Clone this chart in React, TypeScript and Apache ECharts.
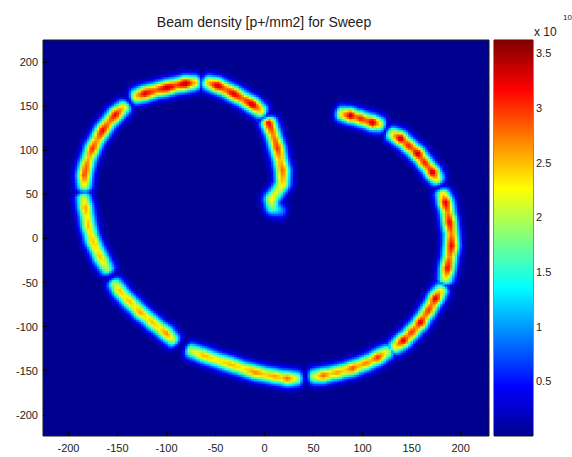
import React, { useEffect, useRef } from "react";
import * as echarts from "echarts";

const TITLE = "Beam density [p+/mm2] for Sweep";
const X_RANGE = [-226, 229];
const Y_RANGE = [-224, 225];
const X_TICKS = [-200, -150, -100, -50, 0, 50, 100, 150, 200];
const Y_TICKS = [-200, -150, -100, -50, 0, 50, 100, 150, 200];
const CBAR_RANGE = [0, 3.62];
const CBAR_TICKS = [0.5, 1, 1.5, 2, 2.5, 3, 3.5];
const CBAR_EXP_BASE = "x 10";
const CBAR_EXP = "10";
const JET = ["#00008F", "#0000FF", "#0080FF", "#00FFFF", "#80FF80", "#FFFF00", "#FF8000", "#FF0000", "#800000"];

// Beam sweep segments: nodes [x mm, y mm, density (x1e10 p+/mm2)]
const SEG_HOOK = [[18.0, 31.2, 0.9], [8.2, 35.7, 1.8], [7.1, 44.8, 2.3], [14, 55, 2.1], [18.4, 62.9, 2.4], [18.4, 77.6, 2.8], [16, 90, 2.5], [13.3, 102.5, 3.0], [9, 118, 2.7], [4.1, 132.0, 3.2]];
const SEG_TOP_R = [[-3.1, 144.5, 2.3], [-12.2, 152.4, 3.4], [-22, 158.8, 2.8], [-31.6, 164.8, 3.3], [-40, 169.8, 2.8], [-48.0, 173.9, 3.4], [-58.2, 177.3, 2.4]];
const SEG_TOP_L = [[-70.4, 177.3, 2.4], [-80.6, 176.2, 3.5], [-90, 174, 2.9], [-99.0, 171.7, 3.4], [-111, 168.5, 2.8], [-122.4, 164.9, 3.3], [-131.6, 161.5, 2.4]];
const SEG_LEFT_U = [[-142.9, 150.1, 2.3], [-152.0, 141.1, 3.2], [-159, 132, 2.7], [-165.3, 122.9, 3.2], [-171, 112, 2.6], [-175.5, 102.5, 3.0], [-179, 92, 2.5], [-181.6, 83.3, 2.8], [-183.7, 71.9, 2.9], [-183.7, 59.5, 2.1]];
const SEG_LEFT_L = [[-184.7, 47.0, 2.0], [-182.7, 35.7, 2.6], [-181, 25, 2.3], [-179.6, 15.3, 2.5], [-177.5, 6, 2.3], [-175.5, -1.7, 2.5], [-171, -12, 2.3], [-167.3, -21.0, 2.5], [-160.2, -34.6, 1.9]];
const SEG_LOW_L = [[-153.1, -50.4, 1.9], [-148.0, -58.4, 2.5], [-143, -65, 2.3], [-137.8, -70.8, 2.5], [-132, -77, 2.3], [-126.5, -83.3, 2.6], [-120, -89, 2.3], [-114.3, -94.6, 2.5], [-107, -101, 2.3], [-100.0, -107.1, 2.7], [-92.9, -115.0, 2.0]];
const SEG_BOTTOM_L = [[-75.5, -126.3, 2.0], [-62.2, -132.0, 2.5], [-48, -137.5, 2.3], [-34.7, -142.2, 2.5], [-22, -147, 2.3], [-9.2, -151.3, 2.7], [1, -153.7, 2.4], [11.2, -155.8, 2.6], [17, -157, 2.4], [23.5, -158.1, 2.8], [33.7, -158.1, 2.0]];
const SEG_BOTTOM_R = [[50.0, -155.8, 2.1], [60.2, -154.7, 2.8], [67, -153, 2.4], [74.5, -151.3, 2.6], [82, -149, 2.4], [89.8, -146.7, 2.9], [96, -144, 2.5], [103.1, -141.1, 2.7], [109, -138, 2.5], [115.3, -134.3, 3.0], [125.5, -127.5, 2.1]];
const SEG_LOW_R = [[132.7, -123.0, 2.2], [141.8, -115.0, 3.3], [146, -110.5, 2.7], [150.0, -105.9, 3.0], [155, -100, 2.7], [159.2, -94.6, 3.3], [163, -88, 2.7], [167.3, -81.0, 3.0], [171, -74, 2.7], [174.5, -67.4, 3.3], [180.6, -57.2, 2.2]];
const SEG_RIGHT = [[184.7, -45.9, 2.2], [186.7, -33.4, 3.2], [189, -20, 2.7], [190.8, -7.4, 3.2], [190.5, 6, 2.7], [188.8, 18.7, 3.2], [187, 30, 2.7], [184.7, 41.4, 3.3], [181.6, 51.6, 2.2]];
const SEG_UP_R = [[176.5, 67.4, 2.2], [171.4, 75.4, 3.4], [167.5, 81, 2.8], [163.3, 86.7, 3.1], [160, 91.5, 2.8], [156.1, 96.9, 3.4], [151.5, 101.5, 2.8], [146.9, 105.9, 3.1], [143, 110, 2.8], [138.8, 113.9, 3.4], [129.6, 119.5, 2.2]];
const SEG_END = [[118.4, 129.7, 2.2], [110.2, 132.0, 3.4], [104, 134.3, 2.8], [98.0, 136.5, 3.1], [93, 138.2, 2.8], [87.8, 139.9, 3.4], [77.6, 142.2, 2.2]];

const SEGMENTS = [SEG_HOOK, SEG_TOP_R, SEG_TOP_L, SEG_LEFT_U, SEG_LEFT_L, SEG_LOW_L, SEG_BOTTOM_L, SEG_BOTTOM_R, SEG_LOW_R, SEG_RIGHT, SEG_UP_R, SEG_END];

// beam profile (in screen pixels), cell size in mm
const BEAM_SIGMA_PX = 5.6;
const END_TAPER = 1.5;
const PX_PER_X = 0.98;
const PX_PER_Y = 0.8825;
const CELL = 2.5;

function buildDensity(): number[][] {
  const out: number[][] = [];
  const nx = Math.round((X_RANGE[1] - X_RANGE[0]) / CELL);
  const ny = Math.round((Y_RANGE[1] - Y_RANGE[0]) / CELL);
  const segs = SEGMENTS.map((s) => s.map((p) => [p[0] * PX_PER_X, p[1] * PX_PER_Y, p[2]]));
  const boxes = segs.map((s) => {
    const xs = s.map((p) => p[0]);
    const ys = s.map((p) => p[1]);
    return [Math.min(...xs) - 25, Math.max(...xs) + 25, Math.min(...ys) - 25, Math.max(...ys) + 25];
  });
  const s2 = 2 * BEAM_SIGMA_PX * BEAM_SIGMA_PX;
  for (let i = 0; i < nx; i++) {
    const dxv = X_RANGE[0] + (i + 0.5) * CELL;
    const cx = dxv * PX_PER_X;
    for (let j = 0; j < ny; j++) {
      const dyv = Y_RANGE[0] + (j + 0.5) * CELL;
      const cy = dyv * PX_PER_Y;
      let best = 0;
      for (let s = 0; s < segs.length; s++) {
        const b = boxes[s];
        if (cx < b[0] || cx > b[1] || cy < b[2] || cy > b[3]) continue;
        const seg = segs[s];
        const n = seg.length;
        for (let k = 0; k < n - 1; k++) {
          const a = seg[k];
          const c = seg[k + 1];
          const dx = c[0] - a[0];
          const dy = c[1] - a[1];
          const len2 = dx * dx + dy * dy;
          const len = Math.sqrt(len2);
          const tRaw = ((cx - a[0]) * dx + (cy - a[1]) * dy) / len2;
          const t = Math.max(0, Math.min(1, tRaw));
          const qx = a[0] + t * dx;
          const qy = a[1] + t * dy;
          let d2 = (cx - qx) * (cx - qx) + (cy - qy) * (cy - qy);
          if ((k === 0 && tRaw < 0) || (k === n - 2 && tRaw > 1)) {
            const along = Math.abs(tRaw - t) * len;
            const perp2 = Math.max(0, d2 - along * along);
            d2 = perp2 + END_TAPER * END_TAPER * along * along;
          }
          const amp = a[2] + t * (c[2] - a[2]);
          const v = amp * Math.exp(-d2 / s2);
          if (v > best) best = v;
        }
      }
      if (best > 0.05) out.push([dxv, dyv, best]);
    }
  }
  return out;
}

const FONT = "'Liberation Sans', Arial, sans-serif";

export default function App() {
  const ref = useRef<HTMLDivElement>(null);
  useEffect(() => {
    if (!ref.current) return;
    const chart = echarts.init(ref.current, null, { renderer: "svg" });
    const density = buildDensity();
    const gradStops = JET.map((c, i) => ({ offset: i / (JET.length - 1), color: c }));
    chart.setOption({
      animation: false,
      backgroundColor: "#ffffff",
      textStyle: { fontFamily: FONT },
      grid: [
        { left: 43, top: 40, width: 446, height: 396, show: true, backgroundColor: "#00008F", borderColor: "#1a1a1a", borderWidth: 1, containLabel: false },
        { left: 494, top: 40, width: 39, height: 396, show: true, backgroundColor: "transparent", borderColor: "#1a1a1a", borderWidth: 1, containLabel: false },
      ],
      xAxis: [
        {
          type: "value", gridIndex: 0, min: X_RANGE[0], max: X_RANGE[1], position: "bottom",
          axisLine: { show: false, onZero: false },
          splitLine: { show: false },
          axisTick: { show: true, inside: true, length: 4, customValues: X_TICKS, lineStyle: { color: "#000" } },
          axisLabel: { customValues: X_TICKS, margin: 6, fontSize: 11, color: "#222", fontFamily: FONT },
        },
        { type: "value", gridIndex: 1, min: 0, max: 1, show: false },
      ],
      yAxis: [
        {
          type: "value", gridIndex: 0, min: Y_RANGE[0], max: Y_RANGE[1], position: "left",
          axisLine: { show: false, onZero: false },
          splitLine: { show: false },
          axisTick: { show: true, inside: true, length: 4, customValues: Y_TICKS, lineStyle: { color: "#000" } },
          axisLabel: { customValues: Y_TICKS, margin: 5, fontSize: 11, color: "#222", fontFamily: FONT },
        },
        {
          type: "value", gridIndex: 1, min: CBAR_RANGE[0], max: CBAR_RANGE[1], position: "right",
          axisLine: { show: false, onZero: false },
          splitLine: { show: false },
          axisTick: { show: true, inside: true, length: 4, customValues: CBAR_TICKS, lineStyle: { color: "#000" } },
          axisLabel: { customValues: CBAR_TICKS, margin: 3, fontSize: 11, color: "#222", fontFamily: FONT, formatter: (v: number) => String(v) },
        },
      ],
      visualMap: {
        type: "continuous", show: false, min: CBAR_RANGE[0], max: CBAR_RANGE[1], dimension: 2, seriesIndex: 0,
        inRange: { color: JET },
      },
      series: [
        {
          type: "custom", xAxisIndex: 0, yAxisIndex: 0, clip: true, silent: true,
          encode: { x: 0, y: 1 },
          data: density,
          renderItem: (_params: any, api: any) => {
            const x = api.value(0);
            const y = api.value(1);
            const p0 = api.coord([x - CELL / 2, y + CELL / 2]);
            const p1 = api.coord([x + CELL / 2, y - CELL / 2]);
            return {
              type: "rect",
              shape: { x: p0[0], y: p0[1], width: p1[0] - p0[0] + 0.6, height: p1[1] - p0[1] + 0.6 },
              style: { fill: api.visual("color") },
            };
          },
        },
        {
          type: "custom", xAxisIndex: 1, yAxisIndex: 1, silent: true,
          encode: { x: 0, y: [1, 2] },
          data: [[0, CBAR_RANGE[0], CBAR_RANGE[1]]],
          renderItem: (_params: any, api: any) => {
            const lo = api.coord([0, api.value(1)]);
            const hi = api.coord([1, api.value(2)]);
            return {
              type: "rect",
              shape: { x: lo[0], y: hi[1], width: hi[0] - lo[0], height: lo[1] - hi[1] },
              style: { fill: new echarts.graphic.LinearGradient(0, 1, 0, 0, gradStops) },
            };
          },
        },
      ],
      graphic: [
        { type: "text", x: 264, y: 22, style: { text: TITLE, fontSize: 14, fill: "#222", fontFamily: FONT, textAlign: "center", textVerticalAlign: "middle" } },
        { type: "text", x: 534, y: 32, style: { text: CBAR_EXP_BASE, fontSize: 12, fill: "#222", fontFamily: FONT, textAlign: "left", textVerticalAlign: "middle" } },
        { type: "text", x: 563, y: 17, style: { text: CBAR_EXP, fontSize: 8, fill: "#222", fontFamily: FONT, textAlign: "left", textVerticalAlign: "middle" } },
      ],
    });
    return () => chart.dispose();
  }, []);
  return <div ref={ref} style={{ position: "fixed", left: 0, top: 0, width: 572, height: 457 }} />;
}
